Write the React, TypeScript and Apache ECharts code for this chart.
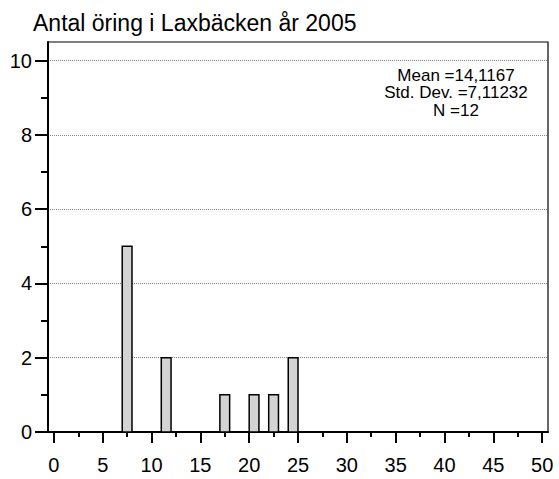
import React, { useEffect, useRef } from "react";
import * as echarts from "echarts";

const titleText = "Antal öring i Laxbäcken år 2005";
const binStarts = [7, 11, 17, 20, 22, 24];
const binEnds = [8, 12, 18, 21, 23, 25];
const counts = [5, 2, 1, 1, 1, 2];
const xMajorTicks = [0, 5, 10, 15, 20, 25, 30, 35, 40, 45, 50];
const xMinorTicks = [2.5, 7.5, 12.5, 17.5, 22.5, 27.5, 32.5, 37.5, 42.5, 47.5];
const yMajorTicks = [0, 2, 4, 6, 8, 10];
const yMinorTicks = [1, 3, 5, 7, 9];
const gridLines = [2, 4, 6, 8, 10];
const statsLines = ["Mean =14,1167", "Std. Dev. =7,11232", "N =12"];

const FONT = "'Liberation Sans', Arial, sans-serif";

export default function App() {
  const ref = useRef<HTMLDivElement>(null);
  useEffect(() => {
    if (!ref.current) return;
    const chart = echarts.init(ref.current, undefined, { renderer: "svg" });
    const data = binStarts.map((s, i) => [s, binEnds[i], counts[i]]);
    chart.setOption({
      animation: false,
      backgroundColor: "#fff",
      textStyle: { fontFamily: FONT },
      title: {
        text: titleText,
        left: 28,
        top: 6,
        textStyle: { fontSize: 23, fontWeight: "normal", color: "#000", fontFamily: FONT },
      },
      grid: {
        left: 48,
        right: 11,
        top: 42,
        bottom: 47,
        show: true,
        borderColor: "#000",
        borderWidth: 1.2,
        containLabel: false,
      },
      xAxis: [
        {
          type: "value",
          min: -0.6,
          max: 50.6,
          position: "bottom",
          axisLine: { show: true, onZero: false, lineStyle: { color: "#000", width: 2 } },
          axisTick: { show: true, inside: false, length: 11, customValues: xMajorTicks, lineStyle: { color: "#000", width: 2 } },
          axisLabel: { show: true, customValues: xMajorTicks, margin: 23, fontSize: 20, color: "#000", fontFamily: FONT },
          splitLine: { show: false },
        },
        {
          type: "value",
          min: -0.6,
          max: 50.6,
          position: "bottom",
          axisLine: { show: false, onZero: false },
          axisTick: { show: true, inside: false, length: 5, customValues: xMinorTicks, lineStyle: { color: "#000", width: 2 } },
          axisLabel: { show: false },
          splitLine: { show: false },
        },
      ],
      yAxis: [
        {
          type: "value",
          min: 0,
          max: 10.5,
          position: "left",
          axisLine: { show: true, onZero: false, lineStyle: { color: "#000", width: 2 } },
          axisTick: { show: true, inside: false, length: 13, customValues: yMajorTicks, lineStyle: { color: "#000", width: 2 } },
          axisLabel: { show: true, customValues: yMajorTicks, margin: 16, fontSize: 20, color: "#000", fontFamily: FONT },
          splitLine: { show: false },
        },
        {
          type: "value",
          min: 0,
          max: 10.5,
          position: "left",
          axisLine: { show: false, onZero: false },
          axisTick: { show: true, inside: false, length: 7, customValues: yMinorTicks, lineStyle: { color: "#000", width: 2 } },
          axisLabel: { show: false },
          splitLine: { show: false },
        },
      ],
      series: [
        {
          type: "custom",
          xAxisIndex: 0,
          yAxisIndex: 0,
          data,
          encode: { x: [0, 1], y: 2 },
          renderItem: (params: any, api: any) => {
            const x0 = api.value(0);
            const x1 = api.value(1);
            const y = api.value(2);
            const p0 = api.coord([x0, y]);
            const p1 = api.coord([x1, 0]);
            return {
              type: "rect",
              shape: { x: p0[0], y: p0[1], width: p1[0] - p0[0], height: p1[1] - p0[1] },
              style: { fill: "#d3d3d3", stroke: "#000", lineWidth: 1.5 },
            };
          },
          markLine: {
            silent: true,
            symbol: ["none", "none"],
            label: { show: false },
            lineStyle: { color: "#888", width: 1, type: "dotted" },
            data: gridLines.map((v) => ({ yAxis: v })),
            z: 0,
          },
          z: 5,
        },
      ],
      graphic: statsLines.map((t, i) => ({
        type: "text",
        x: 456,
        y: 75 + i * 17.5,
        style: {
          text: t,
          textAlign: "center",
          textVerticalAlign: "middle",
          fontSize: 17,
          fontFamily: FONT,
          fill: "#000",
        },
      })),
    });
    return () => chart.dispose();
  }, []);
  return (
    <div
      ref={ref}
      style={{ position: "fixed", left: 0, top: 0, width: 559, height: 479 }}
    />
  );
}
